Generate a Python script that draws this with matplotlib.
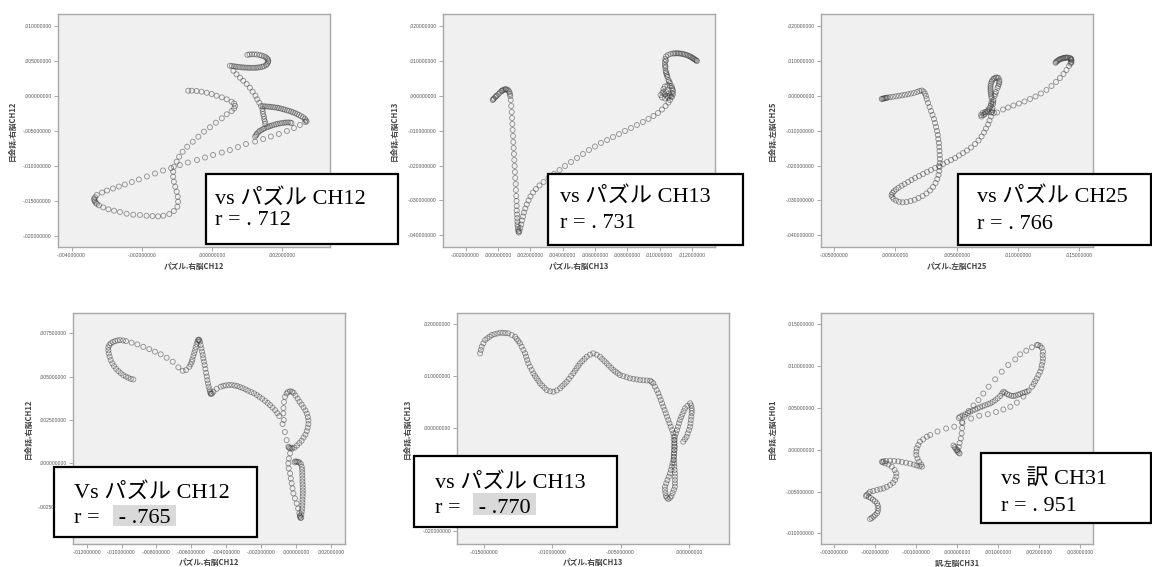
import numpy as np
import matplotlib
matplotlib.use("Agg")
import matplotlib.pyplot as plt
from matplotlib.patches import Rectangle
from matplotlib.ticker import FixedLocator, FuncFormatter

# ---------------- data (values in units of 0.001) ----------------
p1_xy = np.array([
    (-0.67,0.76),(-0.57,0.76),(-0.43,0.72),(-0.29,0.62),(-0.14,0.47),(0.00,0.29),(0.14,0.04),(0.29,-0.19),
    (0.43,-0.47),(0.57,-0.82),(0.64,-1.07),(0.67,-1.43),(0.64,-1.79),(0.57,-2.15),(0.43,-2.62),(0.29,-3.19),
    (0.12,-3.82),(-0.05,-4.48),(-0.22,-5.11),(-0.38,-5.83),(-0.54,-6.55),(-0.70,-7.26),(-0.83,-7.98),(-0.93,-8.70),
    (-1.00,-9.41),(-1.08,-10.13),(-1.10,-10.85),(-1.10,-11.56),(-1.08,-12.28),(-1.04,-12.99),(-1.00,-13.71),
    (-0.97,-14.43),(-0.96,-15.14),(-0.98,-15.86),(-1.08,-16.48),(-1.21,-16.91),(-1.38,-17.15),(-1.53,-17.24),
    (-1.69,-17.19),(-1.86,-17.15),(-2.05,-17.05),(-2.24,-17.01),(-2.43,-16.86),(-2.62,-16.62),(-2.79,-16.43),
    (-2.95,-16.23),(-3.10,-15.95),(-3.22,-15.66),(-3.28,-15.45),(-3.31,-15.29),(-3.34,-15.09),(-3.35,-14.90),
    (-3.36,-14.70),(-3.33,-14.51),
    (-3.28,-14.18),(-3.13,-13.83),(-2.99,-13.54),(-2.82,-13.25),(-2.65,-12.97),(-2.48,-12.68),(-2.28,-12.32),
    (-2.08,-11.96),(-1.85,-11.53),(-1.62,-11.10),(-1.39,-10.67),(-1.16,-10.32),(-0.91,-9.89),(-0.68,-9.53),
    (-0.42,-9.17),(-0.19,-8.81),(0.04,-8.45),(0.29,-8.09),(0.52,-7.74),(0.75,-7.31),(0.98,-6.88),(1.24,-6.52),
    (1.47,-6.16),(1.69,-5.80),(1.92,-5.44),(2.15,-5.01),(2.35,-4.58),(2.52,-4.15),(2.67,-3.72),
    (0.52,4.34),(0.58,4.30),(0.64,4.26),(0.69,4.21),(0.75,4.17),(0.81,4.14),(0.87,4.11),(0.92,4.08),(0.98,4.07),
    (1.04,4.05),(1.09,4.04),(1.15,4.04),(1.21,4.04),(1.27,4.05),(1.32,4.08),(1.38,4.13),(1.44,4.18),(1.49,4.27),
    (1.55,4.41),(1.58,4.58),(1.61,4.80),(1.62,5.01),(1.61,5.23),(1.58,5.40),(1.54,5.56),(1.49,5.69),(1.43,5.79),
    (1.37,5.87),(1.29,5.95),(1.22,5.97),(1.15,5.97),(1.08,5.95),(1.02,5.90),
    (0.62,3.62),(0.71,3.11),(0.81,2.62),(0.90,2.19),(1.00,1.72),(1.09,1.19),(1.17,0.62),(1.25,0.04),(1.30,-0.47),
    (1.36,-0.96),(1.41,-1.43),
    (1.47,-1.46),(1.52,-1.48),(1.58,-1.50),(1.64,-1.53),(1.69,-1.56),(1.75,-1.59),(1.81,-1.63),(1.87,-1.68),
    (1.92,-1.73),(1.98,-1.81),(2.04,-1.88),(2.09,-1.96),(2.15,-2.05),(2.21,-2.13),(2.27,-2.23),(2.32,-2.34),
    (2.38,-2.45),(2.44,-2.58),(2.49,-2.72),(2.55,-2.88),(2.61,-3.05),(2.66,-3.25),(2.69,-3.47),(2.71,-3.65),
    (1.45,-1.86),(1.46,-2.22),(1.47,-2.58),(1.49,-2.94),(1.50,-3.30),(1.52,-3.65),(1.53,-4.01),
    (1.24,-5.83),(1.27,-5.62),(1.29,-5.42),(1.33,-5.20),(1.37,-5.01),(1.42,-4.87),(1.47,-4.73),(1.51,-4.61),
    (1.57,-4.50),(1.62,-4.40),(1.67,-4.30),(1.72,-4.21),(1.78,-4.13),(1.84,-4.05),(1.89,-3.98),(1.95,-3.93),
    (2.01,-3.87),(2.07,-3.83),(2.12,-3.80),(2.18,-3.78),(2.24,-3.80),(2.28,-3.87),
])

p2_xy = np.array([
    (-0.33,-1.15),(-0.29,-0.95),(-0.25,-0.72),(-0.16,-0.29),(-0.11,-0.06),(-0.06,0.14),(0.03,0.57),(0.12,1.00),
    (0.22,1.38),(0.26,1.55),(0.31,1.67),(0.40,1.87),(0.46,1.92),(0.50,1.92),(0.59,1.81),(0.66,1.49),(0.71,1.06),
    (0.74,0.57),(0.76,0.00),
    (0.79,-1.15),(0.82,-2.87),(0.85,-4.59),(0.87,-6.32),(0.89,-8.04),(0.91,-9.76),(0.93,-11.48),(0.95,-13.21),
    (0.97,-14.93),(0.99,-16.65),(1.01,-18.37),(1.03,-20.10),(1.05,-21.82),(1.07,-23.54),(1.10,-25.27),
    (1.11,-26.99),(1.13,-28.71),(1.15,-30.15),(1.16,-31.58),(1.16,-32.87),(1.18,-34.02),(1.19,-35.03),
    (1.20,-36.03),(1.21,-36.89),(1.23,-37.61),(1.24,-38.33),(1.26,-38.90),(1.29,-39.19),(1.33,-38.76),
    (1.38,-37.90),(1.44,-36.89),(1.49,-35.75),(1.55,-34.60),(1.61,-33.45),(1.69,-32.30),(1.78,-31.15),
    (1.89,-30.00),(2.01,-28.85),(2.17,-27.71),(2.35,-26.70),(2.57,-25.70),(2.82,-24.69),(3.13,-23.54),
    (3.47,-22.39),(3.81,-21.25),(4.15,-20.10),(4.52,-18.95),(4.89,-17.80),(5.26,-16.65),(5.63,-15.50),
    (6.00,-14.50),(6.37,-13.49),(6.75,-12.63),(7.12,-11.77),(7.49,-10.91),(7.86,-10.05),(8.23,-9.19),
    (8.60,-8.33),(8.97,-7.46),(9.31,-6.60),(9.62,-5.74),(9.90,-4.88),(10.15,-3.88),(10.37,-2.87),(10.55,-1.87),
    (10.64,-1.15),(10.77,-0.29),(10.83,0.57),(10.83,1.44),(10.77,2.30),(10.64,2.87),(10.49,3.01),(10.33,2.73),
    (10.24,2.01),(10.24,1.15),(10.33,0.43),(10.49,0.00),(10.64,0.14),(10.77,0.86),(10.80,1.87),(10.74,2.87),
    (10.64,3.73),(10.55,4.59),(10.49,5.46),(10.43,6.32),(10.38,7.18),(10.35,8.04),(10.34,8.90),(10.33,9.76),
    (10.35,10.62),(10.40,11.34),(10.52,11.77),(10.68,12.06),(10.83,12.20),(11.02,12.26),(11.20,12.23),
    (11.39,12.12),(11.57,11.91),(11.76,11.63),(11.91,11.28),(12.04,10.91),(12.16,10.54),(12.28,10.19),
    (10.52,-0.43),(10.33,-0.72),(10.15,-0.43),(10.07,0.29),(10.18,0.92),(10.40,1.15),(10.58,0.72),(10.71,-0.14),
    (10.40,10.19),(10.37,8.47),(10.40,6.75),(10.46,5.89),(10.58,4.16),(10.92,12.23),(11.11,12.26),(11.29,12.17),
    (11.48,12.03),(11.66,11.77),(11.84,11.46),(11.97,11.11),(12.10,10.74),(12.22,10.36),(12.31,10.05),
])

p3_xy = np.array([
    (-1.11,-0.86),(-1.05,-0.80),(-0.96,-0.72),(-0.88,-0.65),(-0.80,-0.57),(-0.72,-0.52),(-0.64,-0.46),
    (-0.43,-0.34),(-0.19,-0.23),(0.06,-0.09),(0.30,0.06),(0.55,0.20),(0.79,0.34),(1.04,0.52),(1.28,0.69),
    (1.52,0.89),(1.77,1.15),(1.97,1.44),(2.15,1.58),(2.30,1.29),(2.40,0.72),(2.49,0.00),(2.56,-0.86),
    (2.67,-2.01),(2.79,-3.16),(2.91,-4.31),(3.03,-5.46),(3.15,-6.60),(3.24,-7.75),(3.32,-8.90),(3.40,-10.05),
    (3.46,-11.20),(3.50,-12.35),(3.55,-13.49),(3.58,-14.64),(3.60,-15.79),(3.62,-16.94),(3.63,-18.09),
    (3.63,-19.24),(3.62,-20.38),(3.59,-21.53),(3.52,-22.68),(3.42,-23.83),(3.28,-24.98),(3.07,-26.13),
    (2.83,-27.13),(2.54,-27.99),(2.22,-28.71),(1.89,-29.28),(1.57,-29.80),(1.24,-30.15),(0.91,-30.43),
    (0.59,-30.52),(0.30,-30.38),(0.06,-30.00),(-0.15,-29.51),(-0.27,-28.94),(-0.31,-28.37),
    (-0.23,-27.85),(-0.11,-27.36),(0.06,-26.84),(0.26,-26.33),(0.51,-25.78),(0.75,-25.27),(1.04,-24.69),
    (1.32,-24.12),(1.61,-23.54),(1.93,-22.97),(2.26,-22.39),(2.58,-21.82),(2.91,-21.25),(3.24,-20.67),
    (3.56,-20.10),(3.89,-19.52),(4.21,-18.95),(4.54,-18.37),(4.87,-17.80),(5.19,-17.08),(5.52,-16.37),
    (5.84,-15.65),(6.17,-14.79),(6.50,-13.78),(6.78,-12.78),(7.03,-11.63),(7.23,-10.48),(7.39,-9.33),
    (7.56,-8.18),(7.68,-7.03),(7.80,-5.89),
    (7.88,-4.59),(7.92,-3.45),(7.96,-2.30),(8.00,-1.15),(8.09,0.00),(8.21,1.15),(8.33,2.30),(8.45,3.45),
    (8.49,4.45),(8.41,5.17),(8.21,5.31),(8.00,4.88),(7.84,4.02),(7.76,2.87),(7.76,1.72),(7.80,0.57),
    (7.84,-0.57),(7.84,-1.72),(7.76,-2.87),(7.60,-3.88),(7.39,-4.74),(7.19,-5.46),(7.03,-5.89),(6.99,-5.46),
    (7.11,-4.88),(7.31,-4.59),(7.56,-4.59),(7.80,-4.74),(8.04,-4.88),(8.29,-4.74),
    (7.90,-4.02),(7.98,-1.72),(8.14,0.57),(8.39,2.87),(8.47,3.96),(8.31,5.28),(8.08,5.11),(7.90,4.48),
    (7.78,3.45),(7.76,2.30),(7.77,1.15),(7.82,0.00),(7.82,-2.30),(7.69,-3.45),(7.50,-4.31),(7.29,-5.17),
    (8.78,-3.88),(9.19,-3.30),(9.63,-2.73),(10.08,-2.15),(10.53,-1.58),(10.98,-0.86),(11.43,-0.14),
    (11.87,0.72),(12.32,1.72),(12.73,2.87),(13.10,4.02),(13.42,5.17),(13.71,6.32),(13.95,7.46),(14.16,8.61),
    (14.28,9.33),(14.34,9.82),(14.36,10.25),(14.32,10.62),(14.22,10.91),(14.08,11.00),(13.91,11.00),
    (13.75,10.91),(13.59,10.77),(13.42,10.54),(13.26,10.19),(13.10,9.76),
    (14.35,9.59),(14.35,10.45),(14.28,10.80),(13.99,11.03),(13.83,10.97),(13.67,10.85),(13.50,10.65),
    (13.34,10.39),(13.18,9.99),(13.06,9.53),
])

p4_xy = np.array([
    (-9.32,4.84),(-9.46,4.87),(-9.61,4.94),(-9.75,5.01),(-9.90,5.09),(-10.04,5.20),(-10.18,5.32),(-10.31,5.46),
    (-10.43,5.61),(-10.53,5.77),(-10.62,5.96),(-10.68,6.15),(-10.73,6.34),(-10.75,6.52),(-10.76,6.69),
    (-10.70,6.82),(-10.62,6.92),(-10.50,7.00),(-10.37,7.05),(-10.23,7.09),(-10.09,7.11),(-9.91,7.09),(-9.74,7.05),
    (-9.42,6.96),(-9.09,6.86),(-8.75,6.72),(-8.41,6.59),(-8.08,6.44),(-7.75,6.29),(-7.41,6.09),(-7.06,5.86),
    (-6.74,5.54),(-6.49,5.34),(-6.30,5.38),
    (-6.11,5.57),(-6.04,5.71),(-5.97,5.86),(-5.93,6.00),(-5.88,6.19),(-5.83,6.36),(-5.78,6.53),(-5.74,6.70),
    (-5.69,6.88),(-5.64,7.02),(-5.61,7.11),(-5.57,7.14),(-5.54,7.11),(-5.50,7.02),
    (-5.46,6.82),(-5.42,6.63),(-5.38,6.44),(-5.34,6.25),(-5.31,6.06),(-5.27,5.86),(-5.23,5.67),(-5.19,5.45),
    (-5.15,5.22),(-5.11,5.01),(-5.08,4.80),(-5.04,4.61),(-5.00,4.42),(-4.95,4.26),(-4.92,4.13),(-4.89,4.04),
    (-4.87,4.00),(-4.81,4.03),
    (-4.73,4.13),(-4.54,4.30),(-4.31,4.42),(-4.16,4.47),(-4.01,4.50),(-3.84,4.52),(-3.68,4.52),(-3.51,4.49),
    (-3.36,4.46),(-3.20,4.40),(-3.05,4.34),(-2.88,4.27),(-2.73,4.19),(-2.56,4.11),(-2.40,4.04),(-2.24,3.94),
    (-2.09,3.84),(-1.93,3.73),(-1.77,3.61),(-1.62,3.49),(-1.48,3.36),(-1.34,3.22),(-1.19,3.07),(-1.07,2.90),
    (-0.95,2.73),(-0.76,2.27),(-0.63,1.81),(-0.53,1.34),(-0.43,0.96),
    (-0.33,0.87),(-0.25,0.91),(-0.39,0.91),
    (-0.62,3.84),(-0.68,3.54),(-0.71,3.19),(-0.72,2.88),(-0.69,2.50),
    (-0.53,4.03),(-0.45,4.12),(-0.33,4.16),(-0.22,4.13),(-0.13,4.07),
    (-0.02,3.91),(0.10,3.74),(0.21,3.56),(0.33,3.39),(0.44,3.22),(0.55,3.05),(0.63,2.87),(0.69,2.67),
    (0.72,2.47),(0.72,2.27),(0.68,2.06),(0.63,1.86),(0.55,1.66),(0.44,1.49),(0.33,1.31),(0.20,1.17),
    (0.07,1.03),(-0.08,0.91),(-0.20,0.85),
    (0.05,0.09),(-0.02,0.12),(0.13,0.09),(0.21,0.05),(0.29,-0.04),(-0.07,0.06),
    (-0.33,0.58),(-0.40,0.28),(-0.43,0.00),(-0.41,-0.29),(-0.33,-0.58),(-0.29,-0.87),(-0.24,-1.15),
    (-0.19,-1.44),(-0.14,-1.73),(-0.05,-2.02),(0.05,-2.31),(0.13,-2.60),(0.20,-2.88),
    (0.24,-3.08),(0.27,-3.15),(0.31,-3.13),(0.23,-3.01),
    (0.34,-0.20),(0.36,-0.36),(0.37,-0.53),(0.37,-0.70),(0.38,-0.88),(0.38,-1.05),(0.39,-1.22),(0.40,-1.40),
    (0.40,-1.57),(0.40,-1.74),(0.39,-1.91),(0.38,-2.09),(0.38,-2.26),(0.37,-2.43),(0.36,-2.61),(0.34,-2.78),
    (0.32,-2.95),
])

p5_xy = np.array([
    (-15.31,14.40),(-15.25,15.04),(-15.19,15.68),(-15.07,16.33),(-14.94,16.97),(-14.78,17.29),(-14.61,17.62),
    (-14.45,17.94),(-14.25,18.09),(-14.04,18.24),(-13.84,18.39),(-13.64,18.35),(-13.44,18.31),(-13.24,18.27),
    (-12.99,17.94),(-12.74,17.61),(-12.62,17.18),(-12.50,16.76),(-12.38,16.33),(-12.26,15.69),(-12.13,15.04),
    (-12.01,14.40),(-11.93,13.75),(-11.85,13.11),(-11.77,12.46),(-11.65,11.82),(-11.52,11.17),(-11.40,10.53),
    (-11.28,10.05),(-11.16,9.56),(-11.03,9.08),(-10.91,8.59),(-10.75,8.16),(-10.58,7.73),(-10.42,7.30),
    (-10.17,7.05),(-9.93,6.97),(-9.68,7.22),(-9.44,7.63),(-9.28,8.05),(-9.11,8.48),(-8.95,8.90),(-8.79,9.44),
    (-8.63,9.99),(-8.47,10.53),(-8.35,11.01),(-8.22,11.50),(-8.10,11.98),(-7.97,12.46),(-7.81,12.89),
    (-7.64,13.31),(-7.48,13.74),(-7.24,14.13),(-7.00,14.40),(-6.75,14.13),(-6.51,13.74),(-6.35,13.31),
    (-6.18,12.89),(-6.02,12.46),(-5.86,12.03),(-5.69,11.60),(-5.53,11.17),(-5.37,10.85),(-5.20,10.52),
    (-5.04,10.20),(-4.80,9.99),(-4.55,9.77),(-4.31,9.56),(-4.06,9.45),(-3.82,9.34),(-3.57,9.23),(-3.33,9.19),
    (-3.08,9.14),(-2.84,9.10),(-2.72,8.88),(-2.60,8.59),(-2.48,7.95),(-2.35,7.30),(-2.23,6.66),(-2.14,6.01),
    (-2.05,5.36),(-1.95,4.71),(-1.86,4.06),(-1.77,3.42),(-1.68,2.78),(-1.59,2.13),(-1.50,1.49),(-1.41,0.85),
    (-1.32,0.21),(-1.22,-0.44),(-1.13,-1.08),(-1.10,-1.73),(-1.07,-2.38),(-1.04,-3.03),(-1.01,-3.68),
    (-1.04,-4.32),(-1.07,-4.97),(-1.10,-5.61),(-1.13,-6.25),(-1.19,-6.90),(-1.25,-7.54),(-1.31,-8.19),
    (-1.37,-8.83),(-1.46,-9.48),(-1.56,-10.13),(-1.65,-10.77),(-1.74,-11.42),(-1.74,-12.02),(-1.71,-12.62),
    (-1.67,-13.22),(-1.59,-13.56),(-1.50,-13.80),(-1.37,-13.56),(-1.26,-13.22),(-1.18,-12.62),(-1.09,-12.02),
    (-1.01,-11.42),(-1.01,-10.77),(-1.01,-10.13),(-1.01,-9.48),(-1.01,-8.83),(-1.03,-8.19),(-1.05,-7.54),
    (-1.06,-6.90),(-1.08,-6.25),(-1.08,-5.61),(-1.08,-4.97),(-1.08,-4.32),(-1.08,-3.68),(-1.06,-3.03),
    (-1.03,-2.39),(-1.01,-1.74),(-0.94,-1.09),(-0.86,-0.45),(-0.79,0.20),(-0.71,0.84),(-0.64,1.49),
    (-0.55,2.06),(-0.46,2.62),(-0.36,3.19),(-0.27,3.75),(-0.09,4.24),(0.10,4.72),(0.18,4.30),(0.22,3.75),
    (0.23,3.25),(0.22,2.79),(0.19,2.14),(0.16,1.49),(0.13,0.84),(0.10,0.19),(0.02,-0.45),(-0.07,-1.10),
    (-0.15,-1.74),(-0.28,-2.23),(-0.40,-2.71),
])

p6_xy = np.array([
    (-2.13,-8.29),(-2.09,-8.17),(-2.05,-8.01),(-2.01,-7.83),(-1.96,-7.61),(-1.94,-7.33),(-1.93,-7.01),
    (-1.94,-6.71),(-1.96,-6.41),(-2.01,-6.17),(-2.06,-5.97),(-2.11,-5.78),(-2.16,-5.66),(-2.23,-5.54),
    (-2.21,-5.42),(-2.17,-5.24),(-2.13,-5.02),(-2.05,-4.94),(-1.96,-4.82),(-1.88,-4.72),(-1.80,-4.62),
    (-1.72,-4.44),(-1.64,-4.22),(-1.57,-3.96),(-1.52,-3.62),(-1.49,-3.23),(-1.49,-2.82),(-1.53,-2.43),
    (-1.60,-2.03),(-1.68,-1.77),(-1.76,-1.63),(-1.82,-1.51),(-1.84,-1.44),(-1.80,-1.38),(-1.74,-1.35),
    (-1.64,-1.32),(-1.54,-1.34),(-1.44,-1.39),(-1.35,-1.47),(-1.25,-1.56),(-1.15,-1.66),(-1.06,-1.78),
    (-0.99,-1.89),(-0.92,-1.99),(-0.86,-2.03),(-0.88,-1.77),(-0.93,-1.44),(-0.97,-1.05),(-1.00,-0.63),
    (-1.00,-0.22),(-0.99,0.17),(-0.95,0.56),(-0.91,0.96),(-0.83,1.24),(-0.74,1.56),
    (-0.66,1.76),(-0.48,2.18),(-0.27,2.54),(-0.07,2.75),(0.13,3.19),(0.34,3.73),(0.54,4.06),(0.75,4.25),
    (0.95,4.51),(1.13,4.81),(1.30,5.13),(1.46,5.63),(1.62,6.36),(1.75,7.08),
    (1.83,7.54),(1.87,7.86),(1.91,8.19),(1.95,8.54),(1.99,8.94),(2.03,9.33),(2.06,9.73),(2.07,10.13),
    (2.09,10.53),(2.10,10.93),(2.09,11.32),(2.10,11.72),(2.07,12.17),(2.03,12.40),(1.98,12.52),(1.95,12.52),
    (1.83,12.25),(1.69,11.84),(1.54,11.41),(1.42,10.81),(1.25,10.13),(1.09,9.33),(0.93,8.42),(0.77,7.54),
    (0.64,6.72),(0.52,5.94),(0.40,5.29),(0.28,4.63),(0.18,3.95),(0.12,3.31),
    (0.12,2.60),(0.11,1.96),(0.09,1.34),(0.06,0.80),(0.04,0.32),(0.01,-0.04),
    (-0.09,0.50),(-0.06,0.32),(-0.04,0.14),(-0.01,-0.04),(0.01,-0.22),(0.04,-0.37),(0.06,-0.45),
    (0.04,3.79),(0.07,3.95),(0.13,4.09),(0.20,4.23),(0.26,4.39),(0.32,4.55),(0.38,4.69),(0.44,4.81),
    (0.50,4.95),(0.56,5.07),(0.62,5.19),(0.68,5.31),(0.75,5.43),(0.81,5.55),(0.87,5.71),(0.93,5.91),
    (0.99,6.15),(1.05,6.42),(1.10,6.72),(1.13,6.94),(1.17,6.84),(1.22,6.66),(1.27,6.54),(1.33,6.46),
    (1.38,6.42),(1.43,6.48),(1.49,6.58),(1.54,6.66),(1.60,6.78),(1.66,6.88),(1.71,6.94),
])

x_labels = ["パズル.右脳CH12", "パズル.右脳CH13", "パズル.左脳CH25",
            "パズル.右脳CH12", "パズル.右脳CH13", "訳.左脳CH31"]
y_labels = ["日会話.右脳CH12", "日会話.右脳CH13", "日会話.左脳CH25",
            "日会話.右脳CH12", "日会話.右脳CH13", "日会話.左脳CH01"]
x_ticks = [[-4, -2, 0, 2], [-2, 0, 2, 4, 6, 8, 10, 12], [-5, 0, 5, 10, 15],
           [-12, -10, -8, -6, -4, -2, 0, 2], [-15, -10, -5, 0], [-3, -2, -1, 0, 1, 2, 3]]
y_ticks = [[10, 5, 0, -5, -10, -15, -20], [20, 10, 0, -10, -20, -30, -40],
           [20, 10, 0, -10, -20, -30, -40], [7.5, 5, 2.5, 0, -2.5],
           [20, 10, 0, -10, -20], [15, 10, 5, 0, -5, -10]]
# y tick labels fully covered by an annotation box in the reference
hidden_y_ticks = [[], [], [], [], [-10], []]
box_line1 = ["vs パズル CH12", "vs パズル CH13", "vs パズル CH25",
             "Vs パズル CH12", "vs パズル CH13", "vs 訳 CH31"]
box_r_prefix = ["r = . 712", "r = . 731", "r = . 766", "r = ", "r = ", "r = . 951"]
box_r_neg = [None, None, None, " - .765", " - .770", None]

# ---------------- layout ----------------
W, H = 1152, 567
fig = plt.figure(figsize=(W / 100, H / 100), dpi=100)
fig.patch.set_facecolor("white")

# axes frames in pixels: left, right, top, bottom
frames = [(58, 330, 14, 247), (442.7, 715, 14, 246.7), (821, 1093.3, 14, 246.7),
          (72.7, 345, 312.7, 544), (457.3, 729.3, 312.7, 544), (821, 1093.3, 312.7, 544)]
limits = [((-4.39, 3.38), (-21.63, 11.75)), ((-3.42, 13.43), (-43.27, 23.54)),
          ((-6.06, 16.14), (-43.27, 23.54)), ((-12.80, 2.82), (-4.65, 8.69)),
          ((-16.98, 2.98), (-22.51, 22.26)), ((-3.33, 3.33), (-11.28, 16.39))]
ylabel_off = [46, 48, 49, 44, 50, 49]
data = [p1_xy, p2_xy, p3_xy, p4_xy, p5_xy, p6_xy]


def fmt(v, pos=None):
    s = f"{v * 1e-3:.9f}"
    if s.startswith("-0."):
        s = "-" + s[2:]
    elif s.startswith("0."):
        s = s[1:]
    if s == "-.000000000":
        s = ".000000000"
    return s


def make_yfmt(hidden):
    def f(v, pos=None):
        if any(abs(v - h) < 1e-9 for h in hidden):
            return ""
        return fmt(v)
    return f


CJK = ["Noto Sans CJK JP", "DejaVu Sans"]
SERIF = ["Liberation Serif", "Noto Sans CJK JP"]

for i in range(6):
    l, r, t, b = frames[i]
    ax = fig.add_axes([l / W, 1 - b / H, (r - l) / W, (b - t) / H])
    ax.set_facecolor("#f0f0f0")
    xy = data[i]
    ax.scatter(xy[:, 0], xy[:, 1], s=13, facecolors="none",
               edgecolors=(0.22, 0.22, 0.22, 0.5), linewidths=0.65)
    ax.set_xlim(*limits[i][0])
    ax.set_ylim(*limits[i][1])
    ax.xaxis.set_major_locator(FixedLocator(x_ticks[i]))
    ax.yaxis.set_major_locator(FixedLocator(y_ticks[i]))
    ax.xaxis.set_major_formatter(FuncFormatter(fmt))
    ax.yaxis.set_major_formatter(FuncFormatter(make_yfmt(hidden_y_ticks[i])))
    ax.tick_params(length=3, width=0.6, color="#9a9a9a", labelsize=3.6,
                   labelcolor="#555555", pad=1.5)
    for lab in ax.get_xticklabels() + ax.get_yticklabels():
        lab.set_family("Liberation Sans")
    for sp in ax.spines.values():
        sp.set_color("#a8a8a8")
        sp.set_linewidth(1.0)
    ax.set_xlabel(x_labels[i], family=CJK, fontsize=5.5, fontweight="bold",
                  color="#444444", va="center")
    ax.set_ylabel(y_labels[i], family=CJK, fontsize=5.5, fontweight="bold",
                  color="#444444", va="center")
    hpx = b - t
    wpx = r - l
    xl_off = (266.7 - 247) if i < 3 else (563 - 544)
    ax.xaxis.set_label_coords(0.5, -xl_off / hpx)
    ax.yaxis.set_label_coords(-ylabel_off[i] / wpx, 0.5)

# ---------------- annotation boxes ----------------
boxes = [(206, 174, 398, 244), (548.3, 174, 743.3, 245), (958.3, 174, 1150.7, 245),
         (54.3, 466.7, 256.7, 536.7), (414.3, 455.7, 617.3, 526.7), (980.7, 452.7, 1151, 523.3)]
text_pos = [(215, 199, 221), (560, 197, 223), (976.7, 197, 225),
            (74, 493.3, 518.3), (435, 483.3, 508.3), (1000.7, 480, 506.7)]
highlights = [None, None, None, (113.3, 505, 176, 526), (472.7, 493.3, 535.7, 515), None]


def fx(x):
    return x / W


def fy(y):
    return 1 - y / H


for i in range(6):
    x0, y0, x1, y1 = boxes[i]
    fig.add_artist(Rectangle((fx(x0), fy(y1)), (x1 - x0) / W, (y1 - y0) / H,
                             transform=fig.transFigure, facecolor="white",
                             edgecolor="black", linewidth=1.6, zorder=5))
    tx, ty1, ty2 = text_pos[i]
    fig.text(fx(tx), fy(ty1), box_line1[i], family=SERIF, fontsize=16,
             va="center", ha="left", zorder=7)
    fig.text(fx(tx), fy(ty2), box_r_prefix[i], family=SERIF, fontsize=16,
             va="center", ha="left", zorder=7)
    if highlights[i] is not None:
        hx0, hy0, hx1, hy1 = highlights[i]
        fig.add_artist(Rectangle((fx(hx0), fy(hy1)), (hx1 - hx0) / W, (hy1 - hy0) / H,
                                 transform=fig.transFigure, facecolor="#d9d9d9",
                                 edgecolor="none", zorder=6))
        fig.text(fx(hx0), fy(ty2), box_r_neg[i], family=SERIF, fontsize=16,
                 va="center", ha="left", zorder=7)

fig.savefig("out.png", dpi=100, facecolor="white")
